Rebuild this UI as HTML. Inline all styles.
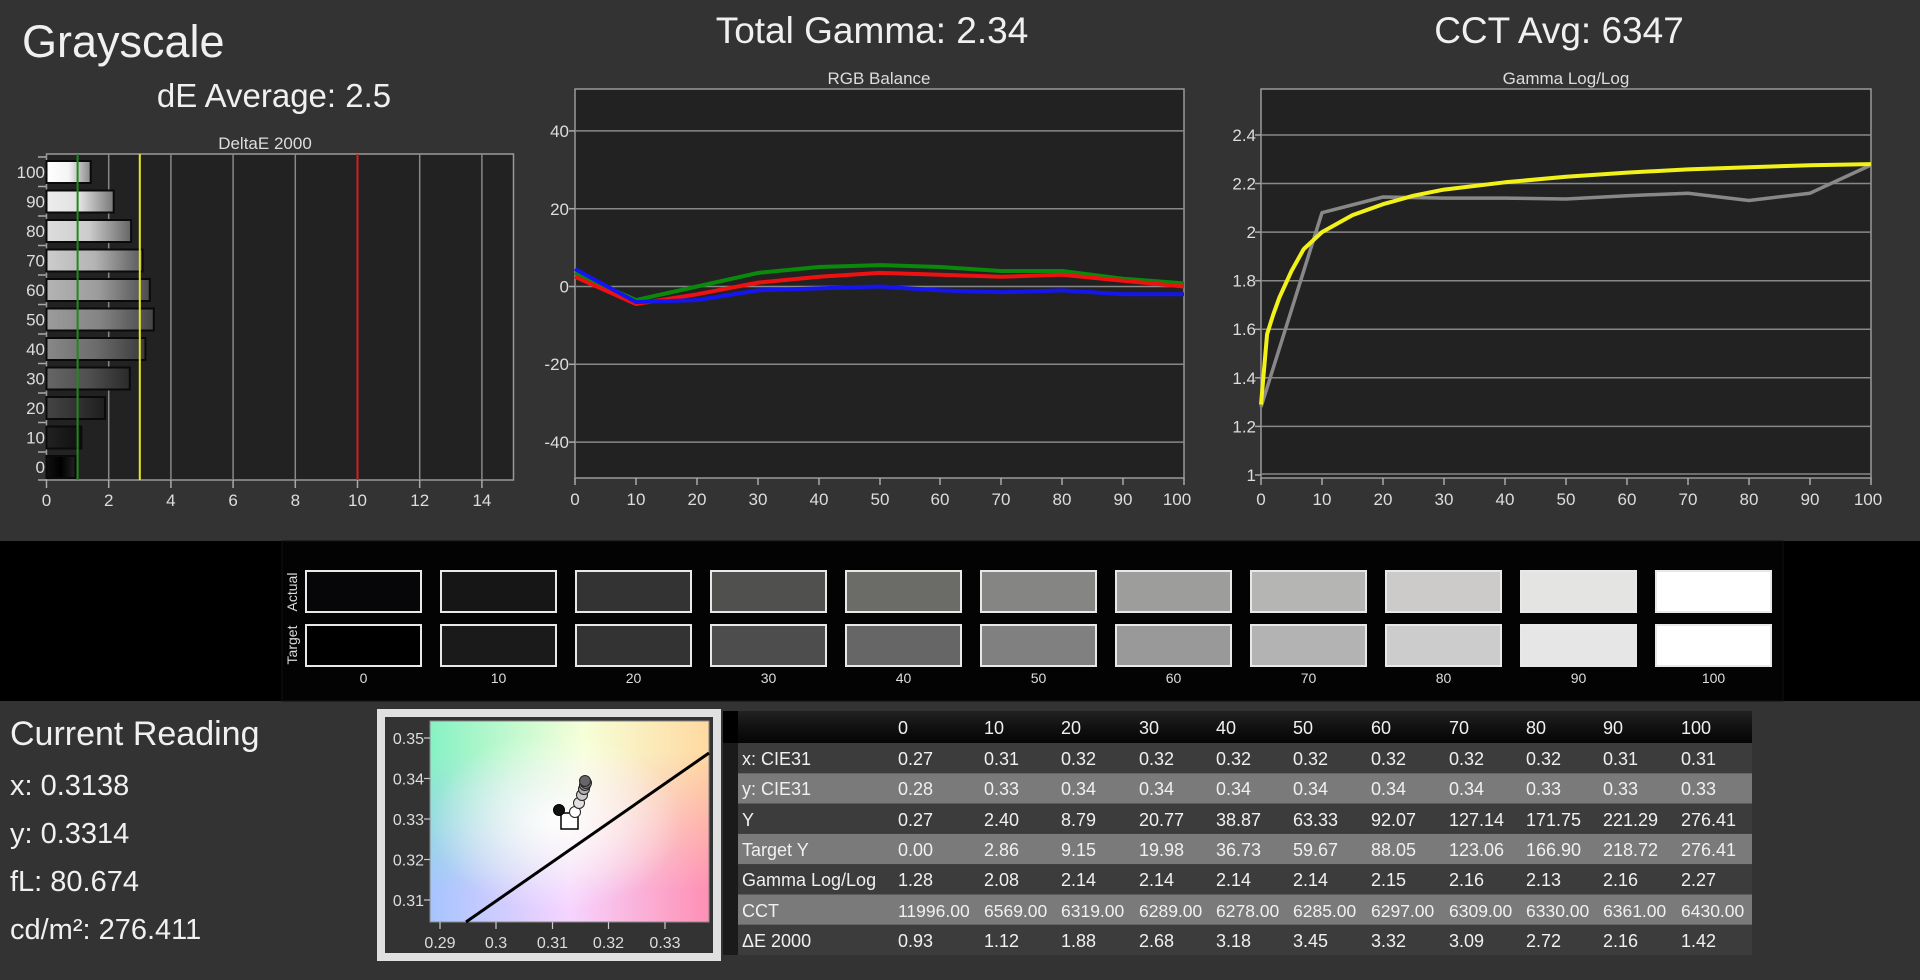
<!DOCTYPE html>
<html><head><meta charset="utf-8"><style>
html,body{margin:0;padding:0;background:#333;width:1920px;height:980px;overflow:hidden}
svg{display:block;font-family:"Liberation Sans",sans-serif}
</style></head><body>
<svg width="1920" height="980" viewBox="0 0 1920 980" xmlns="http://www.w3.org/2000/svg">
<defs>
<linearGradient id="topc" x1="0" x2="1" y1="0" y2="0"><stop offset="0" stop-color="#86f2c4"/><stop offset="0.55" stop-color="#f6ffd8"/><stop offset="1" stop-color="#ffd9a0"/></linearGradient>
<linearGradient id="botc" x1="0" x2="1" y1="0" y2="0"><stop offset="0" stop-color="#a6c4ff"/><stop offset="0.5" stop-color="#f6d4ff"/><stop offset="1" stop-color="#ff8fb4"/></linearGradient>
<linearGradient id="vm" x1="0" x2="0" y1="0" y2="1"><stop offset="0.15" stop-color="#fff"/><stop offset="0.85" stop-color="#000"/></linearGradient>
<mask id="mk"><rect x="430" y="721" width="279" height="201" fill="url(#vm)"/></mask>
<radialGradient id="wc" cx="0.45" cy="0.5" r="0.45"><stop offset="0" stop-color="#fff" stop-opacity="0.9"/><stop offset="1" stop-color="#fff" stop-opacity="0"/></radialGradient>
<linearGradient id="hdr" x1="0" x2="0" y1="0" y2="1"><stop offset="0" stop-color="#222"/><stop offset="0.5" stop-color="#111"/><stop offset="1" stop-color="#050505"/></linearGradient>
</defs>
<rect width="1920" height="980" fill="#333"/>

<!-- Titles -->
<text x="22" y="57" font-size="45" fill="#f0f0f0">Grayscale</text>
<text x="274" y="107" font-size="33" fill="#f0f0f0" text-anchor="middle">dE Average: 2.5</text>
<text x="872" y="43" font-size="37" fill="#f0f0f0" text-anchor="middle">Total Gamma: 2.34</text>
<text x="1559" y="43" font-size="37" fill="#f0f0f0" text-anchor="middle">CCT Avg: 6347</text>

<!-- DeltaE chart -->
<text x="265" y="149" font-size="17" fill="#ddd" text-anchor="middle">DeltaE 2000</text>
<rect x="46.5" y="154" width="467" height="326" fill="#222" stroke="#999" stroke-width="1.5"/>
<g stroke="#888" stroke-width="1.5">
<line x1="108.7" y1="154" x2="108.7" y2="480"/><line x1="170.9" y1="154" x2="170.9" y2="480"/><line x1="233.1" y1="154" x2="233.1" y2="480"/><line x1="295.3" y1="154" x2="295.3" y2="480"/><line x1="419.7" y1="154" x2="419.7" y2="480"/><line x1="481.9" y1="154" x2="481.9" y2="480"/>
</g>
<g id="bars" stroke="#0a0a0a" stroke-width="2">
<defs>
<linearGradient id="b100"><stop offset="0" stop-color="#fff"/><stop offset="0.5" stop-color="#f4f4f4"/><stop offset="1" stop-color="#888"/></linearGradient>
<linearGradient id="b90"><stop offset="0" stop-color="#eee"/><stop offset="0.5" stop-color="#e0e0e0"/><stop offset="1" stop-color="#777"/></linearGradient>
<linearGradient id="b80"><stop offset="0" stop-color="#ddd"/><stop offset="0.5" stop-color="#ccc"/><stop offset="1" stop-color="#666"/></linearGradient>
<linearGradient id="b70"><stop offset="0" stop-color="#ccc"/><stop offset="0.5" stop-color="#b4b4b4"/><stop offset="1" stop-color="#5a5a5a"/></linearGradient>
<linearGradient id="b60"><stop offset="0" stop-color="#b4b4b4"/><stop offset="0.5" stop-color="#9c9c9c"/><stop offset="1" stop-color="#4c4c4c"/></linearGradient>
<linearGradient id="b50"><stop offset="0" stop-color="#9c9c9c"/><stop offset="0.5" stop-color="#848484"/><stop offset="1" stop-color="#444"/></linearGradient>
<linearGradient id="b40"><stop offset="0" stop-color="#888"/><stop offset="0.5" stop-color="#6c6c6c"/><stop offset="1" stop-color="#3a3a3a"/></linearGradient>
<linearGradient id="b30"><stop offset="0" stop-color="#666"/><stop offset="0.5" stop-color="#505050"/><stop offset="1" stop-color="#2a2a2a"/></linearGradient>
<linearGradient id="b20"><stop offset="0" stop-color="#444"/><stop offset="0.5" stop-color="#333"/><stop offset="1" stop-color="#1e1e1e"/></linearGradient>
<linearGradient id="b10"><stop offset="0" stop-color="#222"/><stop offset="0.5" stop-color="#181818"/><stop offset="1" stop-color="#111"/></linearGradient>
<linearGradient id="b0"><stop offset="0" stop-color="#111"/><stop offset="0.5" stop-color="#000"/><stop offset="1" stop-color="#222"/></linearGradient>
</defs>
<rect x="46.5" y="161" width="44.2" height="22" fill="url(#b100)"/>
<rect x="46.5" y="190.5" width="67.2" height="22" fill="url(#b90)"/>
<rect x="46.5" y="220" width="84.6" height="22" fill="url(#b80)"/>
<rect x="46.5" y="249.5" width="96.1" height="22" fill="url(#b70)"/>
<rect x="46.5" y="279" width="103.3" height="22" fill="url(#b60)"/>
<rect x="46.5" y="308.5" width="107.3" height="22" fill="url(#b50)"/>
<rect x="46.5" y="338" width="98.9" height="22" fill="url(#b40)"/>
<rect x="46.5" y="367.5" width="83.3" height="22" fill="url(#b30)"/>
<rect x="46.5" y="397" width="58.5" height="22" fill="url(#b20)"/>
<rect x="46.5" y="426.5" width="34.8" height="22" fill="url(#b10)"/>
<rect x="46.5" y="456" width="28.9" height="22" fill="url(#b0)"/>
</g>
<line x1="77.6" y1="154" x2="77.6" y2="480" stroke="#1e8a1e" stroke-width="2"/>
<line x1="139.8" y1="154" x2="139.8" y2="480" stroke="#e8e820" stroke-width="2"/>
<line x1="357.5" y1="154" x2="357.5" y2="480" stroke="#d02020" stroke-width="2"/>
<g stroke="#aaa" stroke-width="1.5">
<line x1="38" y1="157" x2="46" y2="157"/><line x1="38" y1="186.5" x2="46" y2="186.5"/><line x1="38" y1="216" x2="46" y2="216"/><line x1="38" y1="245.5" x2="46" y2="245.5"/><line x1="38" y1="275" x2="46" y2="275"/><line x1="38" y1="304.5" x2="46" y2="304.5"/><line x1="38" y1="334" x2="46" y2="334"/><line x1="38" y1="363.5" x2="46" y2="363.5"/><line x1="38" y1="393" x2="46" y2="393"/><line x1="38" y1="422.5" x2="46" y2="422.5"/><line x1="38" y1="452" x2="46" y2="452"/><line x1="38" y1="480" x2="46" y2="480"/>
<line x1="46.5" y1="480" x2="46.5" y2="488"/><line x1="108.7" y1="480" x2="108.7" y2="488"/><line x1="170.9" y1="480" x2="170.9" y2="488"/><line x1="233.1" y1="480" x2="233.1" y2="488"/><line x1="295.3" y1="480" x2="295.3" y2="488"/><line x1="357.5" y1="480" x2="357.5" y2="488"/><line x1="419.7" y1="480" x2="419.7" y2="488"/><line x1="481.9" y1="480" x2="481.9" y2="488"/>
</g>
<g font-size="17" fill="#ddd" text-anchor="end">
<text x="45" y="178">100</text><text x="45" y="207.5">90</text><text x="45" y="237">80</text><text x="45" y="266.5">70</text><text x="45" y="296">60</text><text x="45" y="325.5">50</text><text x="45" y="355">40</text><text x="45" y="384.5">30</text><text x="45" y="414">20</text><text x="45" y="443.5">10</text><text x="45" y="473">0</text>
</g>
<g font-size="17" fill="#ddd" text-anchor="middle">
<text x="46.5" y="506">0</text><text x="108.7" y="506">2</text><text x="170.9" y="506">4</text><text x="233.1" y="506">6</text><text x="295.3" y="506">8</text><text x="357.5" y="506">10</text><text x="419.7" y="506">12</text><text x="481.9" y="506">14</text>
</g>

<!-- RGB Balance -->
<text x="879" y="84" font-size="17" fill="#ddd" text-anchor="middle">RGB Balance</text>
<rect x="575" y="89" width="609" height="389" fill="#222" stroke="#999" stroke-width="1.5"/>
<g stroke="#888" stroke-width="1.5">
<line x1="575" y1="130.9" x2="1184" y2="130.9"/><line x1="575" y1="208.7" x2="1184" y2="208.7"/><line x1="575" y1="286.5" x2="1184" y2="286.5"/><line x1="575" y1="364.3" x2="1184" y2="364.3"/><line x1="575" y1="442.1" x2="1184" y2="442.1"/>
</g>
<g stroke="#aaa" stroke-width="1.5">
<line x1="569" y1="130.9" x2="575" y2="130.9"/><line x1="569" y1="208.7" x2="575" y2="208.7"/><line x1="569" y1="286.5" x2="575" y2="286.5"/><line x1="569" y1="364.3" x2="575" y2="364.3"/><line x1="569" y1="442.1" x2="575" y2="442.1"/>
<line x1="575" y1="478" x2="575" y2="485"/><line x1="636" y1="478" x2="636" y2="485"/><line x1="697" y1="478" x2="697" y2="485"/><line x1="758" y1="478" x2="758" y2="485"/><line x1="819" y1="478" x2="819" y2="485"/><line x1="880" y1="478" x2="880" y2="485"/><line x1="940" y1="478" x2="940" y2="485"/><line x1="1001" y1="478" x2="1001" y2="485"/><line x1="1062" y1="478" x2="1062" y2="485"/><line x1="1123" y1="478" x2="1123" y2="485"/><line x1="1184" y1="478" x2="1184" y2="485"/>
</g>
<g font-size="17" fill="#ddd" text-anchor="end">
<text x="569" y="137">40</text><text x="569" y="215">20</text><text x="569" y="292.5">0</text><text x="569" y="370">-20</text><text x="569" y="448">-40</text>
</g>
<g font-size="17" fill="#ddd" text-anchor="middle">
<text x="575" y="505">0</text><text x="636" y="505">10</text><text x="697" y="505">20</text><text x="758" y="505">30</text><text x="819" y="505">40</text><text x="880" y="505">50</text><text x="940" y="505">60</text><text x="1001" y="505">70</text><text x="1062" y="505">80</text><text x="1123" y="505">90</text><text x="1177" y="505">100</text>
</g>
<g fill="none" stroke-width="4" stroke-linejoin="round">
<polyline stroke="#0a8a0a" points="575,272.9 636,300.1 697,286.5 758,272.9 819,267 880,265.1 940,267 1001,271 1062,271 1123,278.7 1184,283.4"/>
<polyline stroke="#ee1111" points="575,276.8 636,304 697,294.3 758,282.6 819,276.8 880,272.9 940,274.8 1001,276.8 1062,274.8 1123,280.7 1184,286.5"/>
<polyline stroke="#1515ee" points="575,269 636,302 697,300.1 758,290.4 819,288.4 880,286.5 940,290.4 1001,292.3 1062,290.4 1123,294.3 1184,294.3"/>
</g>

<!-- Gamma -->
<text x="1566" y="84" font-size="17" fill="#ddd" text-anchor="middle">Gamma Log/Log</text>
<rect x="1261" y="89" width="610" height="389" fill="#222" stroke="#999" stroke-width="1.5"/>
<g stroke="#888" stroke-width="1.5">
<line x1="1261" y1="135" x2="1871" y2="135"/><line x1="1261" y1="183.5" x2="1871" y2="183.5"/><line x1="1261" y1="232.1" x2="1871" y2="232.1"/><line x1="1261" y1="280.7" x2="1871" y2="280.7"/><line x1="1261" y1="329.3" x2="1871" y2="329.3"/><line x1="1261" y1="377.8" x2="1871" y2="377.8"/><line x1="1261" y1="426.4" x2="1871" y2="426.4"/><line x1="1261" y1="474" x2="1871" y2="474"/>
</g>
<g stroke="#aaa" stroke-width="1.5">
<line x1="1255" y1="135" x2="1261" y2="135"/><line x1="1255" y1="183.5" x2="1261" y2="183.5"/><line x1="1255" y1="232.1" x2="1261" y2="232.1"/><line x1="1255" y1="280.7" x2="1261" y2="280.7"/><line x1="1255" y1="329.3" x2="1261" y2="329.3"/><line x1="1255" y1="377.8" x2="1261" y2="377.8"/><line x1="1255" y1="426.4" x2="1261" y2="426.4"/><line x1="1255" y1="475" x2="1261" y2="475"/>
<line x1="1261" y1="478" x2="1261" y2="485"/><line x1="1322" y1="478" x2="1322" y2="485"/><line x1="1383" y1="478" x2="1383" y2="485"/><line x1="1444" y1="478" x2="1444" y2="485"/><line x1="1505" y1="478" x2="1505" y2="485"/><line x1="1566" y1="478" x2="1566" y2="485"/><line x1="1627" y1="478" x2="1627" y2="485"/><line x1="1688" y1="478" x2="1688" y2="485"/><line x1="1749" y1="478" x2="1749" y2="485"/><line x1="1810" y1="478" x2="1810" y2="485"/><line x1="1871" y1="478" x2="1871" y2="485"/>
</g>
<g font-size="17" fill="#ddd" text-anchor="end">
<text x="1256" y="141">2.4</text><text x="1256" y="189.5">2.2</text><text x="1256" y="238">2</text><text x="1256" y="286.5">1.8</text><text x="1256" y="335">1.6</text><text x="1256" y="384">1.4</text><text x="1256" y="432.5">1.2</text><text x="1256" y="481">1</text>
</g>
<g font-size="17" fill="#ddd" text-anchor="middle">
<text x="1261" y="505">0</text><text x="1322" y="505">10</text><text x="1383" y="505">20</text><text x="1444" y="505">30</text><text x="1505" y="505">40</text><text x="1566" y="505">50</text><text x="1627" y="505">60</text><text x="1688" y="505">70</text><text x="1749" y="505">80</text><text x="1810" y="505">90</text><text x="1868" y="505">100</text>
</g>
<polyline fill="none" stroke="#888" stroke-width="3.5" stroke-linejoin="round" points="1261,407 1322,212.7 1383,197 1444,198.1 1505,198.1 1566,199 1627,195.7 1688,193.2 1749,200.5 1810,193.2 1871,165"/>
<polyline fill="none" stroke="#f2f21a" stroke-width="4" stroke-linejoin="round" points="1261,404.6 1267.1,334.1 1273.2,314.7 1279.3,297.7 1291.5,271 1303.7,249.1 1322,232.1 1352.5,215.1 1383,204.2 1413.5,195.7 1444,189.6 1505,182.3 1566,176.7 1627,172.6 1688,169.4 1749,167.2 1810,165.3 1871,164.1"/>

<!-- Swatch band -->
<rect x="0" y="541" width="1920" height="160" fill="#000"/>
<rect x="282" y="541" width="1501" height="160" fill="#030303" stroke="#111" stroke-width="1"/>
<text transform="translate(297,592) rotate(-90)" font-size="14" fill="#ddd" text-anchor="middle">Actual</text>
<text transform="translate(297,645) rotate(-90)" font-size="14" fill="#ddd" text-anchor="middle">Target</text>
<g stroke="#e8e8e8" stroke-width="2">
<rect x="306" y="571" width="115" height="41" fill="#060608"/><rect x="306" y="625" width="115" height="41" fill="#000"/>
<rect x="441" y="571" width="115" height="41" fill="#161616"/><rect x="441" y="625" width="115" height="41" fill="#1a1a1a"/>
<rect x="576" y="571" width="115" height="41" fill="#333"/><rect x="576" y="625" width="115" height="41" fill="#333"/>
<rect x="711" y="571" width="115" height="41" fill="#50514f"/><rect x="711" y="625" width="115" height="41" fill="#4d4d4d"/>
<rect x="846" y="571" width="115" height="41" fill="#6b6b68"/><rect x="846" y="625" width="115" height="41" fill="#666"/>
<rect x="981" y="571" width="115" height="41" fill="#858583"/><rect x="981" y="625" width="115" height="41" fill="#808080"/>
<rect x="1116" y="571" width="115" height="41" fill="#9d9d9b"/><rect x="1116" y="625" width="115" height="41" fill="#999"/>
<rect x="1251" y="571" width="115" height="41" fill="#b5b5b3"/><rect x="1251" y="625" width="115" height="41" fill="#b3b3b3"/>
<rect x="1386" y="571" width="115" height="41" fill="#cccbc9"/><rect x="1386" y="625" width="115" height="41" fill="#ccc"/>
<rect x="1521" y="571" width="115" height="41" fill="#e4e4e2"/><rect x="1521" y="625" width="115" height="41" fill="#e6e6e6"/>
<rect x="1656" y="571" width="115" height="41" fill="#fff"/><rect x="1656" y="625" width="115" height="41" fill="#fff"/>
</g>
<g font-size="14" fill="#ddd" text-anchor="middle">
<text x="363.5" y="683">0</text><text x="498.5" y="683">10</text><text x="633.5" y="683">20</text><text x="768.5" y="683">30</text><text x="903.5" y="683">40</text><text x="1038.5" y="683">50</text><text x="1173.5" y="683">60</text><text x="1308.5" y="683">70</text><text x="1443.5" y="683">80</text><text x="1578.5" y="683">90</text><text x="1713.5" y="683">100</text>
</g>

<!-- Current reading -->
<text x="10" y="745" font-size="34" fill="#f0f0f0">Current Reading</text>
<g font-size="29" fill="#f0f0f0">
<text x="10" y="795">x: 0.3138</text><text x="10" y="843">y: 0.3314</text><text x="10" y="891">fL: 80.674</text><text x="10" y="939">cd/m²: 276.411</text>
</g>

<!-- CIE -->
<rect x="377" y="709" width="344" height="252" fill="#e0e0e0"/>
<rect x="385" y="717" width="328" height="236" fill="#333"/>
<rect x="430" y="721" width="279" height="201" fill="url(#botc)"/>
<rect x="430" y="721" width="279" height="201" fill="url(#topc)" mask="url(#mk)"/>
<rect x="430" y="721" width="279" height="201" fill="url(#wc)"/>
<rect x="430" y="721" width="279" height="201" fill="none" stroke="#888" stroke-width="1"/>
<line x1="466" y1="922" x2="709" y2="753" stroke="#000" stroke-width="3"/>
<rect x="561" y="813" width="17" height="16" fill="#fff" stroke="#000" stroke-width="1.5"/>
<circle cx="559" cy="810" r="5.5" fill="#111" stroke="#000"/>
<g stroke="#222" stroke-width="1">
<circle cx="575" cy="812" r="5.5" fill="#fff"/><circle cx="579" cy="803" r="5.5" fill="#e0e0e0"/><circle cx="582" cy="795" r="5.5" fill="#c8c8c8"/><circle cx="584" cy="789" r="5.5" fill="#b0b0b0"/><circle cx="585" cy="785" r="5.5" fill="#999"/><circle cx="586" cy="783" r="5.5" fill="#808080"/><circle cx="585" cy="781" r="5.5" fill="#666"/>
</g>
<g stroke="#ccc" stroke-width="1.2">
<line x1="424" y1="738" x2="430" y2="738"/><line x1="424" y1="778.5" x2="430" y2="778.5"/><line x1="424" y1="819" x2="430" y2="819"/><line x1="424" y1="859.5" x2="430" y2="859.5"/><line x1="424" y1="900" x2="430" y2="900"/>
<line x1="440" y1="922" x2="440" y2="929"/><line x1="496" y1="922" x2="496" y2="929"/><line x1="552.5" y1="922" x2="552.5" y2="929"/><line x1="608.5" y1="922" x2="608.5" y2="929"/><line x1="665" y1="922" x2="665" y2="929"/>
</g>
<g font-size="16" fill="#ddd" text-anchor="end">
<text x="424" y="744">0.35</text><text x="424" y="784.5">0.34</text><text x="424" y="825">0.33</text><text x="424" y="865.5">0.32</text><text x="424" y="906">0.31</text>
</g>
<g font-size="16" fill="#ddd" text-anchor="middle">
<text x="440" y="948">0.29</text><text x="496" y="948">0.3</text><text x="552.5" y="948">0.31</text><text x="608.5" y="948">0.32</text><text x="665" y="948">0.33</text>
</g>

<!-- Table -->
<rect x="723" y="711" width="15" height="244" fill="#1a1a1a"/>
<rect x="723" y="711" width="15" height="32" fill="#000"/>
<rect x="738" y="711" width="1014" height="32" fill="url(#hdr)"/>
<rect x="738" y="743" width="1014" height="30.3" fill="#3c3c3c"/>
<rect x="738" y="773.3" width="1014" height="30.3" fill="#7a7a7a"/>
<rect x="738" y="803.6" width="1014" height="30.3" fill="#3c3c3c"/>
<rect x="738" y="833.9" width="1014" height="30.3" fill="#7a7a7a"/>
<rect x="738" y="864.2" width="1014" height="30.3" fill="#3c3c3c"/>
<rect x="738" y="894.5" width="1014" height="30.3" fill="#7a7a7a"/>
<rect x="738" y="924.8" width="1014" height="30.3" fill="#3c3c3c"/>
<g font-size="18" fill="#f0f0f0">
<text x="898" y="734">0</text><text x="984" y="734">10</text><text x="1061" y="734">20</text><text x="1139" y="734">30</text><text x="1216" y="734">40</text><text x="1293" y="734">50</text><text x="1371" y="734">60</text><text x="1449" y="734">70</text><text x="1526" y="734">80</text><text x="1603" y="734">90</text><text x="1681" y="734">100</text>
<text x="742" y="765">x: CIE31</text><text x="742" y="795">y: CIE31</text><text x="742" y="826">Y</text><text x="742" y="856">Target Y</text><text x="742" y="886">Gamma Log/Log</text><text x="742" y="917">CCT</text><text x="742" y="947">ΔE 2000</text>
</g>
<g font-size="18" fill="#f0f0f0">
<text y="765"><tspan x="898">0.27</tspan><tspan x="984">0.31</tspan><tspan x="1061">0.32</tspan><tspan x="1139">0.32</tspan><tspan x="1216">0.32</tspan><tspan x="1293">0.32</tspan><tspan x="1371">0.32</tspan><tspan x="1449">0.32</tspan><tspan x="1526">0.32</tspan><tspan x="1603">0.31</tspan><tspan x="1681">0.31</tspan></text>
<text y="795"><tspan x="898">0.28</tspan><tspan x="984">0.33</tspan><tspan x="1061">0.34</tspan><tspan x="1139">0.34</tspan><tspan x="1216">0.34</tspan><tspan x="1293">0.34</tspan><tspan x="1371">0.34</tspan><tspan x="1449">0.34</tspan><tspan x="1526">0.33</tspan><tspan x="1603">0.33</tspan><tspan x="1681">0.33</tspan></text>
<text y="826"><tspan x="898">0.27</tspan><tspan x="984">2.40</tspan><tspan x="1061">8.79</tspan><tspan x="1139">20.77</tspan><tspan x="1216">38.87</tspan><tspan x="1293">63.33</tspan><tspan x="1371">92.07</tspan><tspan x="1449">127.14</tspan><tspan x="1526">171.75</tspan><tspan x="1603">221.29</tspan><tspan x="1681">276.41</tspan></text>
<text y="856"><tspan x="898">0.00</tspan><tspan x="984">2.86</tspan><tspan x="1061">9.15</tspan><tspan x="1139">19.98</tspan><tspan x="1216">36.73</tspan><tspan x="1293">59.67</tspan><tspan x="1371">88.05</tspan><tspan x="1449">123.06</tspan><tspan x="1526">166.90</tspan><tspan x="1603">218.72</tspan><tspan x="1681">276.41</tspan></text>
<text y="886"><tspan x="898">1.28</tspan><tspan x="984">2.08</tspan><tspan x="1061">2.14</tspan><tspan x="1139">2.14</tspan><tspan x="1216">2.14</tspan><tspan x="1293">2.14</tspan><tspan x="1371">2.15</tspan><tspan x="1449">2.16</tspan><tspan x="1526">2.13</tspan><tspan x="1603">2.16</tspan><tspan x="1681">2.27</tspan></text>
<text y="917" font-size="17.5"><tspan x="898">11996.00</tspan><tspan x="984">6569.00</tspan><tspan x="1061">6319.00</tspan><tspan x="1139">6289.00</tspan><tspan x="1216">6278.00</tspan><tspan x="1293">6285.00</tspan><tspan x="1371">6297.00</tspan><tspan x="1449">6309.00</tspan><tspan x="1526">6330.00</tspan><tspan x="1603">6361.00</tspan><tspan x="1681">6430.00</tspan></text>
<text y="947"><tspan x="898">0.93</tspan><tspan x="984">1.12</tspan><tspan x="1061">1.88</tspan><tspan x="1139">2.68</tspan><tspan x="1216">3.18</tspan><tspan x="1293">3.45</tspan><tspan x="1371">3.32</tspan><tspan x="1449">3.09</tspan><tspan x="1526">2.72</tspan><tspan x="1603">2.16</tspan><tspan x="1681">1.42</tspan></text>
</g>
</svg>
</body></html>
